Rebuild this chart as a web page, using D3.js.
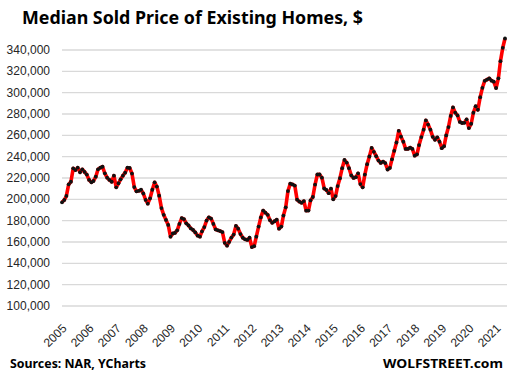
<!DOCTYPE html>
<html>
<head>
<meta charset="utf-8">
<script src="https://cdn.jsdelivr.net/npm/d3@7"></script>
<style>
    body { margin: 0; background: #ffffff; }
    svg { display: block; }
</style>
</head>
<body>
<svg></svg>
<script>
// monthly median sold price, $ (NAR via YCharts), Jan 2005 - May 2021
let p2005 = [196700, 198900, 202700, 213600, 216000, 228600, 227000, 229200, 224900, 227700, 225200, 222700]
let p2006 = [217700, 215500, 216700, 220800, 227700, 229200, 230100, 223900, 219800, 217700, 216000, 221700]
let p2007 = [210800, 214600, 218300, 221700, 224500, 229200, 228900, 223700, 211000, 207000, 207500, 208500]
let p2008 = [205000, 199000, 195500, 200500, 208500, 215500, 211500, 203000, 191300, 185000, 180200, 175500]
let p2009 = [164500, 167500, 168000, 170500, 176500, 182000, 181000, 177000, 175000, 172300, 170800, 168500]
let p2010 = [165500, 164500, 169500, 173500, 179600, 182700, 181500, 176500, 171300, 170500, 169800, 168800]
let p2011 = [158800, 156100, 159600, 163700, 166500, 174600, 172000, 167000, 163500, 162000, 161500, 163500]
let p2012 = [154800, 155600, 164500, 174000, 182600, 189000, 187000, 185000, 180000, 177500, 179000, 180500]
let p2013 = [172000, 174000, 184300, 192000, 207300, 214200, 213500, 212400, 199200, 197400, 196300, 197900]
let p2014 = [188900, 189000, 198500, 201700, 213400, 222800, 222900, 219800, 209700, 208300, 205300, 209500]
let p2015 = [199600, 202600, 212000, 219400, 228700, 236400, 234000, 228700, 221900, 219600, 220300, 223900]
let p2016 = [213800, 210800, 222700, 232500, 239700, 247700, 244100, 240000, 235900, 233700, 234900, 233500]
let p2017 = [227500, 229000, 237000, 245000, 252800, 263800, 258300, 253500, 246800, 246800, 248000, 246800]
let p2018 = [240500, 241700, 250400, 257900, 264800, 273500, 269600, 264800, 258100, 255400, 257700, 253600]
let p2019 = [247500, 249400, 259400, 267300, 277700, 285700, 280800, 278200, 272100, 271100, 271300, 274500]
let p2020 = [266300, 270400, 280700, 286800, 283500, 295300, 304100, 310600, 311800, 313000, 310800, 309800]
let p2021 = [303900, 313000, 329100, 341600, 350300]

let years = [2005, 2006, 2007, 2008, 2009, 2010, 2011, 2012, 2013, 2014, 2015, 2016, 2017, 2018, 2019, 2020, 2021]
let yTicks = [100000, 120000, 140000, 160000, 180000, 200000, 220000, 240000, 260000, 280000, 300000, 320000, 340000]

let prices = [p2005, p2006, p2007, p2008, p2009, p2010, p2011, p2012, p2013, p2014, p2015, p2016, p2017, p2018, p2019, p2020, p2021]

let values = []
prices.forEach((row, r) => {
    row.forEach((v, m) => {
        values.push([new Date(years[r], m, 1), v])
    })
})

let width = 516
let height = 378
let left = 62
let right = 507

let svg = d3.select("svg")
    .attr("width", width)
    .attr("height", height)

let xScale = d3.scaleTime()
    .domain([values[0][0], values[values.length - 1][0]])
    .range([left, 505])

let yScale = d3.scaleLinear()
    .domain([100000, 340000])
    .range([305.5, 49.5])

// title
svg.append("text")
    .attr("x", 22)
    .attr("y", 24)
    .attr("textLength", 341)
    .attr("lengthAdjust", "spacingAndGlyphs")
    .style("font-family", "'Noto Sans', 'DejaVu Sans', sans-serif")
    .style("font-weight", "700")
    .style("font-size", "18px")
    .style("fill", "#000")
    .text("Median Sold Price of Existing Homes, $")

// y axis with gridlines
let yAxis = d3.axisLeft(yScale)
    .tickValues(yTicks)
    .tickSize(-(right - left))
    .tickPadding(12)
    .tickFormat(d3.format(","))

let gy = svg.append("g")
    .attr("id", "y-axis")
    .attr("transform", "translate(" + left + ",0)")
    .call(yAxis)

gy.select(".domain").remove()
gy.selectAll(".tick line")
    .attr("stroke", "#d9d9d9")
    .attr("stroke-width", 1.3)
gy.selectAll(".tick text")
    .style("font-family", "'Liberation Sans', Arial, sans-serif")
    .style("font-size", "12px")
    .style("fill", "#262626")

// x axis, year labels slanted
let xAxis = d3.axisBottom(xScale)
    .tickValues(years.map((y) => new Date(y, 0, 1)))
    .tickSize(0)
    .tickFormat(d3.timeFormat("%Y"))

let gx = svg.append("g")
    .attr("id", "x-axis")
    .attr("transform", "translate(0,326)")
    .call(xAxis)

gx.select(".domain").remove()
gx.selectAll(".tick text")
    .attr("y", 0)
    .attr("dy", "0.35em")
    .attr("x", 0)
    .attr("transform", "translate(2,0)rotate(-45)")
    .style("text-anchor", "end")
    .style("font-family", "'Liberation Sans', Arial, sans-serif")
    .style("font-size", "12px")
    .style("fill", "#262626")

// red line with black markers
let line = d3.line()
    .x((d) => xScale(d[0]))
    .y((d) => yScale(d[1]))

svg.append("path")
    .datum(values)
    .attr("d", line)
    .attr("fill", "none")
    .attr("stroke", "#ff0000")
    .attr("stroke-width", 3.6)
    .attr("stroke-linejoin", "round")

svg.selectAll("circle")
    .data(values)
    .enter()
    .append("circle")
    .attr("cx", (d) => xScale(d[0]))
    .attr("cy", (d) => yScale(d[1]))
    .attr("r", 1.9)
    .attr("fill", "#111")

// footer
svg.append("text")
    .attr("x", 10)
    .attr("y", 368)
    .attr("textLength", 136)
    .attr("lengthAdjust", "spacingAndGlyphs")
    .style("font-family", "'Noto Sans', 'DejaVu Sans', sans-serif")
    .style("font-weight", "700")
    .style("font-size", "13px")
    .style("fill", "#000")
    .text("Sources: NAR, YCharts")

svg.append("text")
    .attr("x", 383)
    .attr("y", 368)
    .attr("textLength", 120)
    .attr("lengthAdjust", "spacingAndGlyphs")
    .style("font-family", "'Noto Sans', 'DejaVu Sans', sans-serif")
    .style("font-weight", "700")
    .style("font-size", "13px")
    .style("fill", "#000")
    .text("WOLFSTREET.com")
</script>
</body>
</html>
